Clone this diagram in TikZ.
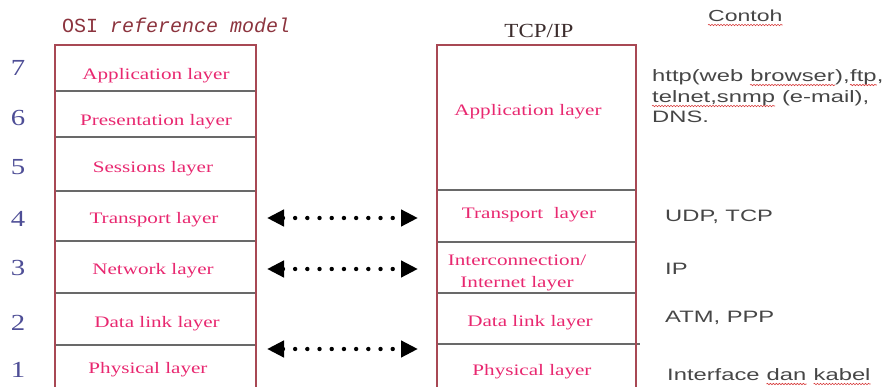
\documentclass[tikz,border=0pt]{standalone}
\usepackage{fontspec}
\usetikzlibrary{arrows.meta,decorations.pathmorphing}
\setmainfont{Liberation Serif}
\newfontfamily\layerfont[FakeStretch=1.32]{Liberation Serif}
\newfontfamily\numfont[FakeStretch=1.25]{Liberation Serif}
\newfontfamily\titlefont{Liberation Mono}
\newfontfamily\tcpfont[FakeStretch=1.15]{Liberation Serif}
\newfontfamily\samplefont[FakeStretch=1.44]{Liberation Sans}

\definecolor{layerpink}{RGB}{232,40,112}
\definecolor{numblue}{RGB}{78,78,150}
\definecolor{boxred}{RGB}{168,72,84}
\definecolor{sepgray}{RGB}{105,105,105}
\definecolor{titlered}{RGB}{140,52,62}
\definecolor{tcpdark}{RGB}{60,45,45}
\definecolor{sampletext}{RGB}{70,70,70}
\definecolor{spellred}{RGB}{215,60,60}

\tikzset{
  layer/.style={font=\layerfont\fontsize{16}{22}\selectfont, text=layerpink, inner sep=0pt},
  num/.style={font=\numfont\fontsize{23}{26}\selectfont, text=numblue, inner sep=0pt},
  sample/.style={font=\samplefont\fontsize{16.5}{22}\selectfont, text=sampletext, inner sep=0pt, anchor=base west},
  boxborder/.style={draw=boxred, line width=1.4pt},
  boxsep/.style={draw=sepgray, line width=1.4pt},
  peer/.style={line width=4.4pt, dash pattern=on 0pt off 12.2pt, line cap=round,
    {Triangle[length=17pt,width=16pt]}-{Triangle[length=17pt,width=16pt]}},
  spell/.style={draw=spellred, line width=0.6pt, decorate,
    decoration={snake, amplitude=0.7pt, segment length=3pt}},
}
% wavy spell-check line under the baseline of a word node
\newcommand\spellunder[1]{\draw[spell] ([yshift=-3pt]#1.base west) -- ([yshift=-3pt]#1.base east);}
% an inter-word space that survives at the end of a node
\newcommand\wordgap{\ \mbox{}}

\begin{document}
\begin{tikzpicture}[x=1pt, y=-1pt]
\useasboundingbox (0,0) rectangle (887,387);

% ---- OSI reference model stack ----
\foreach \y in {91,137,191,241,293,345}
  \draw[boxsep] (55,\y) -- (256,\y);
\draw[boxborder] (55,392) -- (55,45) -- (256,45) -- (256,392);

\node[font=\titlefont\fontsize{20}{24}\selectfont, text=titlered, inner sep=0pt, anchor=base west]
  (osititle) at (62,33) {OSI \textit{reference model}};

\node[layer] (osi7) at (156,76)  {Application layer};
\node[layer] (osi6) at (156,122) {Presentation layer};
\node[layer] (osi5) at (153,169) {Sessions layer};
\node[layer] (osi4) at (154,220) {Transport layer};
\node[layer] (osi3) at (153,271) {Network layer};
\node[layer] (osi2) at (157,324) {Data link layer};
\node[layer] (osi1) at (148,370) {Physical layer};

\node[num] (n7) at (18,68)  {7};
\node[num] (n6) at (18,118) {6};
\node[num] (n5) at (18,167) {5};
\node[num] (n4) at (18,219) {4};
\node[num] (n3) at (18,268) {3};
\node[num] (n2) at (18,323) {2};
\node[num] (n1) at (18,370) {1};

% ---- TCP/IP stack ----
\foreach \y in {190,242,293}
  \draw[boxsep] (437,\y) -- (636,\y);
\draw[boxsep] (437,344) -- (640,344);
\draw[boxborder] (437,392) -- (437,45) -- (636,45) -- (636,392);

\node[font=\tcpfont\fontsize{20}{24}\selectfont, text=tcpdark, inner sep=0pt, anchor=base]
  (tcptitle) at (539,38) {TCP/IP};

\node[layer] (tcpapp)   at (528,112) {Application layer};
\node[layer] (tcptrans) at (529,215) {Transport~~layer};
\node[layer, align=center] (tcpinet) at (517,272.5) {Interconnection/\\Internet layer};
\node[layer] (tcplink)  at (530,323) {Data link layer};
\node[layer] (tcpphys)  at (532,372) {Physical layer};

% ---- peer correspondence arrows ----
\coordinate (l4) at (267,218);  \coordinate (r4) at (418,218);
\coordinate (l3) at (267,269);  \coordinate (r3) at (418,269);
\coordinate (l1) at (267,349);  \coordinate (r1) at (418,349);
\draw[peer] (l4) -- (r4);
\draw[peer] (l3) -- (r3);
\draw[peer] (l1) -- (r1);

% ---- examples column ----
\node[sample, font=\samplefont\fontsize{16}{20}\selectfont] (contoh) at (708,22) {Contoh};
\spellunder{contoh}

\node[sample] (ex7a) at (652,82) {http(web\wordgap};
\node[sample] (ex7aw) at (ex7a.base east) {browser};
\node[sample] (ex7ab) at (ex7aw.base east) {),};
\node[sample] (ex7af) at (ex7ab.base east) {ftp};
\node[sample] (ex7ac) at (ex7af.base east) {,};
\spellunder{ex7aw}
\spellunder{ex7af}

\node[sample] (ex7b) at (652,103) {telnet,snmp};
\node[sample] (ex7bm) at (ex7b.base east) {\ (e-mail),};
\spellunder{ex7b}

\node[sample] (ex7c) at (652,123) {DNS.};
\node[sample] (ex4) at (665,222) {UDP, TCP};
\node[sample] (ex3) at (665,275) {IP};
\node[sample] (ex2) at (665,323) {ATM, PPP};

\node[sample] (ex1) at (667,381) {Interface\wordgap};
\node[sample] (ex1d) at (ex1.base east) {dan};
\node[sample] (ex1s) at (ex1d.base east) {\wordgap};
\node[sample] (ex1k) at (ex1s.base east) {kabel};
\spellunder{ex1d}
\spellunder{ex1k}
\end{tikzpicture}
\end{document}
